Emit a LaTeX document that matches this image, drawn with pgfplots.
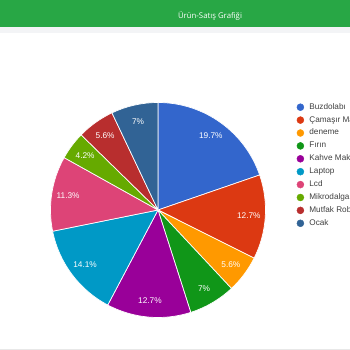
\documentclass[border=0pt]{standalone}
\usepackage{fontspec}
\setmainfont{Liberation Sans}
\newfontfamily\titlefont{Open Sans}
\usepackage{pgfplots}
\usepackage{pgfplotstable}
\pgfplotsset{compat=1.18}
\definecolor{pie0}{HTML}{3366CC}
\definecolor{pie1}{HTML}{DC3912}
\definecolor{pie2}{HTML}{FF9900}
\definecolor{pie3}{HTML}{109618}
\definecolor{pie4}{HTML}{990099}
\definecolor{pie5}{HTML}{0099C6}
\definecolor{pie6}{HTML}{DD4477}
\definecolor{pie7}{HTML}{66AA00}
\definecolor{pie8}{HTML}{B82E2E}
\definecolor{pie9}{HTML}{316395}
\definecolor{headgreen}{HTML}{28A745}
\definecolor{stripgrey}{HTML}{F3F4F6}
\definecolor{linegrey}{HTML}{E8E8E8}

\pgfplotstableread[col sep=comma]{
name,value
Buzdolabı,14
Çamaşır Makinesi,9
deneme,4
Fırın,5
Kahve Makinesi,9
Laptop,10
Lcd,8
Mikrodalga,3
Mutfak Robotu,4
Ocak,5
}\piedata

\begin{document}
\begin{tikzpicture}
\path[use as bounding box, clip] (0,0) rectangle (350pt,350pt);
\begin{axis}[
  at={(0,0)}, anchor=south west,
  width=350pt, height=350pt, scale only axis,
  xmin=0, xmax=350, ymin=0, ymax=350,
  hide axis, clip=false,
  legend style={at={(axis cs:296.5,247)}, anchor=north west, draw=none, fill=none,
    font=\fontsize{8.2}{9}\selectfont, text=black!75, inner sep=0pt, row sep=4.9pt,
    nodes={inner sep=0pt, text height=6pt, text depth=2pt},
    /tikz/every odd column/.append style={column sep=5.3pt}},
  legend cell align=left,
]
% background decorations
\fill[headgreen] (axis cs:0,323) rectangle (axis cs:350,350);
\fill[stripgrey] (axis cs:0,317) rectangle (axis cs:350,323);
\fill[linegrey] (axis cs:0,0) rectangle (axis cs:350,1.2);
\node[text=white, font=\titlefont\fontsize{7.8}{9}\selectfont] at (axis cs:210,334.5) {Ürün-Satış Grafiği};

% total
\pgfmathsetmacro\total{0}
\pgfplotsforeachungrouped \i in {0,...,9}{%
  \pgfplotstablegetelem{\i}{value}\of\piedata
  \pgfmathsetmacro\total{\total+\pgfplotsretval}%
}
% slices
\pgfmathsetmacro\cum{0}
\pgfplotsforeachungrouped \i in {0,...,9}{%
  \pgfplotstablegetelem{\i}{value}\of\piedata
  \pgfmathsetmacro\val{\pgfplotsretval}%
  \pgfmathsetmacro\a{90-\cum/\total*360}%
  \pgfmathsetmacro\b{90-(\cum+\val)/\total*360}%
  \edef\temp{%
    \noexpand\fill[fill=pie\i, draw=white, line width=0.7pt, line join=round]
      (axis cs:158,140) -- ++(\a:107.5pt) arc[start angle=\a, end angle=\b, radius=107.5pt] -- cycle;
  }\temp
  \pgfmathsetmacro\cum{\cum+\val}%
}
\pgfmathsetmacro\cum{0}
\pgfplotsforeachungrouped \i in {0,...,9}{%
  \pgfplotstablegetelem{\i}{value}\of\piedata
  \pgfmathsetmacro\val{\pgfplotsretval}%
  \pgfmathsetmacro\m{90-(\cum+\val/2)/\total*360}%
  \pgfmathsetmacro\pct{\val/\total*100}%
  \edef\temp{%
    \noexpand\path (axis cs:158,140) ++(\m:91pt) node[text=white, font=\noexpand\fontsize{8.3}{9}\noexpand\selectfont]
      {\noexpand\pgfmathprintnumber[fixed,precision=1,assume math mode=true]{\pct}\noexpand\%};
  }\temp
  \pgfmathsetmacro\cum{\cum+\val}%
}

% legend
\pgfplotsforeachungrouped \i in {0,...,9}{%
  \pgfplotstablegetelem{\i}{name}\of\piedata
  \let\nm\pgfplotsretval
  \edef\temp{%
    \noexpand\addlegendimage{legend image code/.code={\noexpand\fill[pie\i] (3.5pt,0pt) circle (3.5pt);}}
    \noexpand\addlegendentry{\nm}
  }\temp
}
\end{axis}
\end{tikzpicture}
\end{document}
